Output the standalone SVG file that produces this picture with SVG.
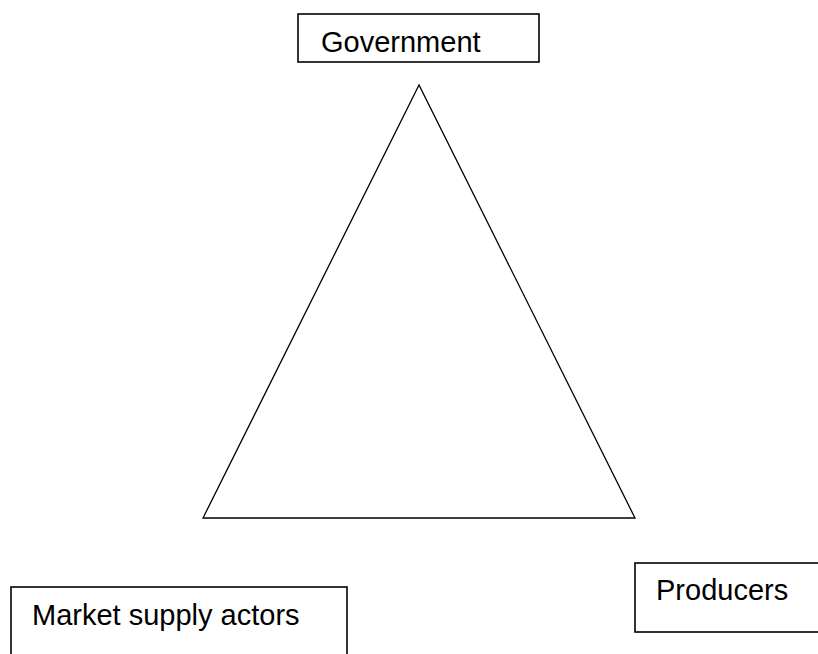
<svg xmlns="http://www.w3.org/2000/svg" width="818" height="654" viewBox="0 0 818 654">
<style>
.box{fill:#fff;stroke:#000;stroke-width:1.6}
.lbl{font-family:"Liberation Sans",Arial,sans-serif;font-size:29px;fill:#000}
.tri{fill:none;stroke:#000;stroke-width:1.3;stroke-linejoin:miter}
</style>
<rect width="818" height="654" fill="#fff"/>
<g id="triangle">
<polygon class="tri" points="419,85 203,518 635,518"/>
</g>
<g id="government">
<rect class="box" x="298" y="14" width="241" height="48"/>
<text class="lbl" x="321" y="52">Government</text>
</g>
<g id="market-supply-actors">
<rect class="box" x="11" y="587" width="336" height="80"/>
<text class="lbl" x="32" y="625">Market supply actors</text>
</g>
<g id="producers">
<rect class="box" x="635" y="563" width="200" height="69"/>
<text class="lbl" x="656" y="600">Producers</text>
</g>
</svg>
